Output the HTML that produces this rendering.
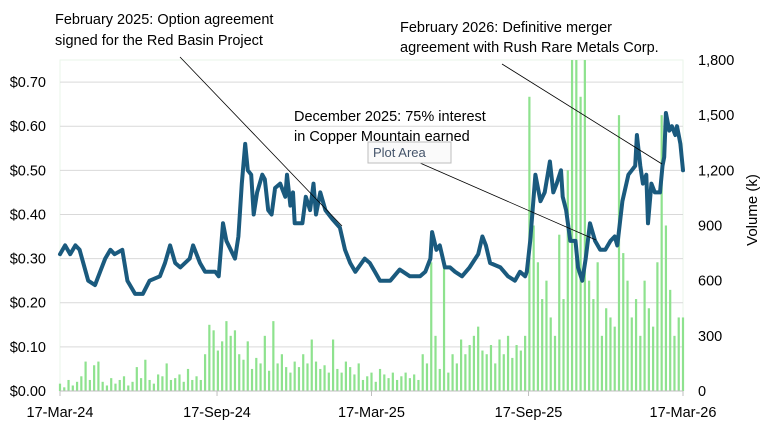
<!DOCTYPE html>
<html><head><meta charset="utf-8">
<style>
html,body{margin:0;padding:0;background:#fff;}
svg{display:block;font-family:"Liberation Sans",sans-serif;}
</style></head>
<body>
<svg id="chart" width="773" height="433" viewBox="0 0 773 433" xmlns="http://www.w3.org/2000/svg">
<rect x="0" y="0" width="773" height="433" fill="#fff"/>
<rect x="60" y="60" width="623" height="331" fill="none" stroke="#eaf6ea"/>
<g id="grid"></g>
<g id="bars"></g>
<g id="line"></g>
<g id="axes"></g>
<g font-size="14.5" fill="#000">
<text x="55" y="24">February 2025:  Option agreement</text>
<text x="55" y="45">signed for  the Red Basin Project</text>
<line x1="180" y1="57" x2="342" y2="226" stroke="#000" stroke-width="0.8"/>
<text x="400" y="32">February 2026: Definitive merger</text>
<text x="400" y="52">agreement with Rush Rare Metals Corp.</text>
<line x1="502" y1="64" x2="662" y2="164" stroke="#000" stroke-width="0.8"/>
<text x="294" y="121">December 2025: 75% interest</text>
<text x="294" y="141">in Copper Mountain earned</text>
<line x1="420" y1="163" x2="596" y2="240" stroke="#000" stroke-width="0.8"/>
</g>
<g>
<rect x="368" y="142" width="83" height="21" fill="#fafafa" stroke="#bdbdbd"/>
<text x="373" y="157" font-size="13" fill="#44546a">Plot Area</text>
</g>
</svg>
<script>
const priceDays=[0,6,12,18,23,33,41,47,53,59,64,73,79,88,97,105,117,123,129,135,141,152,156,164,170,182,186,191,195,205,209,213,217,220,224,227,231,237,240,244,248,252,258,264,266,270,273,275,284,288,293,297,300,305,311,319,328,334,340,346,357,363,369,375,387,398,410,422,428,434,436,441,445,451,457,463,471,480,490,495,499,504,516,525,533,539,545,547,551,557,563,568,574,578,582,587,589,593,598,604,607,612,616,621,627,633,639,645,650,653,659,666,670,674,676,680,683,687,689,693,697,703,706,708,710,714,717,721,723,727,730];
const prices=[0.31,0.33,0.31,0.33,0.32,0.25,0.24,0.27,0.30,0.32,0.31,0.32,0.25,0.22,0.22,0.25,0.26,0.29,0.33,0.29,0.28,0.30,0.33,0.29,0.27,0.27,0.26,0.38,0.34,0.30,0.35,0.47,0.56,0.50,0.49,0.40,0.45,0.49,0.48,0.41,0.40,0.46,0.47,0.44,0.49,0.42,0.45,0.38,0.38,0.44,0.41,0.47,0.40,0.45,0.41,0.39,0.37,0.32,0.29,0.27,0.30,0.29,0.27,0.25,0.25,0.275,0.26,0.26,0.27,0.30,0.36,0.32,0.33,0.28,0.28,0.27,0.26,0.28,0.31,0.35,0.33,0.29,0.28,0.26,0.25,0.27,0.26,0.27,0.34,0.49,0.43,0.45,0.52,0.45,0.47,0.50,0.44,0.41,0.34,0.34,0.28,0.25,0.30,0.38,0.34,0.32,0.32,0.34,0.35,0.33,0.43,0.49,0.50,0.51,0.58,0.51,0.47,0.49,0.38,0.47,0.45,0.45,0.51,0.53,0.63,0.59,0.60,0.58,0.60,0.56,0.50];
const volumes=[40,20,60,30,50,80,160,60,140,160,50,30,70,40,60,80,30,50,130,70,170,60,40,90,80,150,60,70,90,50,120,60,80,60,200,360,330,220,270,380,300,330,200,170,270,120,180,150,300,110,380,150,200,130,100,160,130,200,150,280,160,120,140,100,280,120,100,160,130,90,150,60,80,100,50,120,90,70,100,60,80,100,70,90,60,200,150,700,300,120,700,100,200,150,280,200,250,300,350,220,200,250,150,280,200,300,180,250,220,300,1600,900,700,500,600,400,300,850,500,1200,1800,1800,1600,1800,600,500,700,300,450,400,350,1500,750,600,400,500,300,600,450,350,700,1500,900,550,300,400,400];
const volumeStepDays=5;
const priceTicks=[0,0.1,0.2,0.3,0.4,0.5,0.6,0.7];
const priceTickLabels=["$0.00","$0.10","$0.20","$0.30","$0.40","$0.50","$0.60","$0.70"];
const volTicks=[0,300,600,900,1200,1500,1800];
const volTickLabels=["0","300","600","900","1,200","1,500","1,800"];
const dateTicks=[0,184,365,549,730];
const dateTickLabels=["17-Mar-24","17-Sep-24","17-Mar-25","17-Sep-25","17-Mar-26"];

const X0=60,X1=683,Y0=391,Y1=60,NS="http://www.w3.org/2000/svg";
const xScale=d=>X0+d/730*(X1-X0);
const yPrice=p=>Y0-p/0.75*(Y0-Y1);
const yVol=v=>Y0-Math.min(v,1800)/1800*(Y0-Y1);
function mk(tag,attrs,parent){const e=document.createElementNS(NS,tag);for(const k in attrs)e.setAttribute(k,attrs[k]);parent.appendChild(e);return e;}
const grid=document.getElementById('grid'),bars=document.getElementById('bars'),line=document.getElementById('line'),axes=document.getElementById('axes');
priceTicks.forEach((t,i)=>{
  if(t>0){const g=mk('line',{x1:X0,x2:X1,y1:yPrice(t),y2:yPrice(t),stroke:'#d9d9d9','stroke-width':1},grid);
  
  }
  const tx=mk('text',{x:46,y:yPrice(t)+5,'text-anchor':'end','font-size':14.5,fill:'#000'},axes);
  tx.textContent=priceTickLabels[i];
  
  
});
volTicks.forEach((t,i)=>{
  const tx=mk('text',{x:698,y:yVol(t)+5,'font-size':14.5,fill:'#000'},axes);
  tx.textContent=volTickLabels[i];
  
  
});
const vt=mk('text',{x:0,y:0,'font-size':15,fill:'#000','text-anchor':'middle',transform:'translate(757,210) rotate(-90)'},axes);
vt.textContent='Volume (k)';


volumes.forEach((v,i)=>{
  const x=xScale(i*volumeStepDays);
  const b=mk('rect',{x:x-1.1,y:yVol(v),width:2.2,height:Y0-yVol(v),fill:'#8ee28e'},bars);
  
  
});
const pts=priceDays.map((d,i)=>xScale(d).toFixed(1)+','+yPrice(prices[i]).toFixed(1)).join(' ');
const pl=mk('polyline',{points:pts,fill:'none',stroke:'#1a5a7e','stroke-width':4,'stroke-linejoin':'round','stroke-linecap':'round'},line);


const ax=mk('line',{x1:X0,x2:X1,y1:Y0,y2:Y0,stroke:'#bfbfbf','stroke-width':1},axes);


dateTicks.forEach((d,i)=>{
  const tk=mk('line',{x1:xScale(d),x2:xScale(d),y1:Y0,y2:Y0+5,stroke:'#bfbfbf'},axes);
  
  
  const tx=mk('text',{x:xScale(d),y:417,'text-anchor':'middle','font-size':14.5,fill:'#000'},axes);
  tx.textContent=dateTickLabels[i];
  
  
});
</script>
</body></html>
